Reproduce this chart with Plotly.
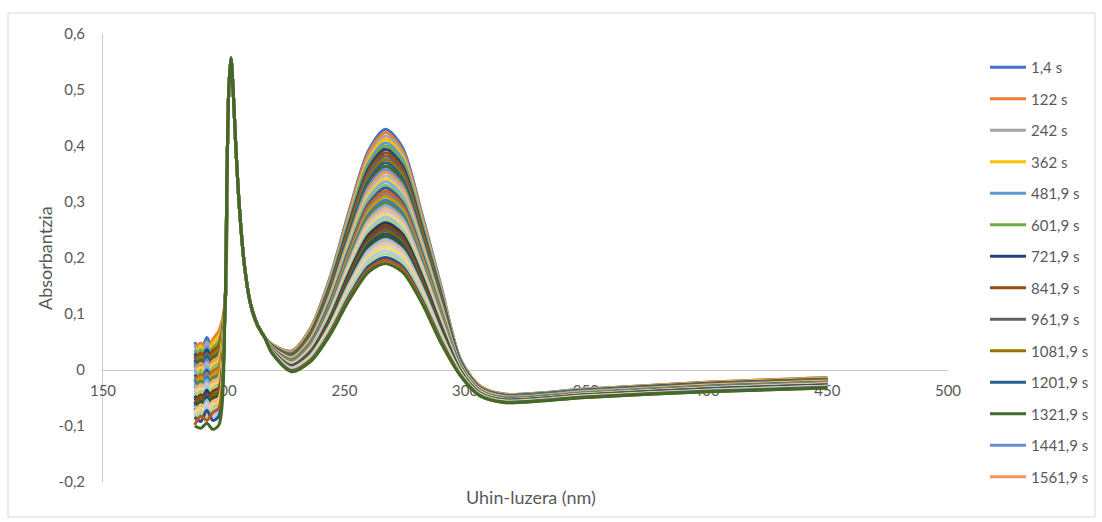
import plotly.graph_objects as go

# ---- series labels (time of each spectrum) ----
time_labels = ["1,4 s", "122 s", "242 s", "362 s", "481,9 s", "601,9 s", "721,9 s", "841,9 s",
               "961,9 s", "1081,9 s", "1201,9 s", "1321,9 s", "1441,9 s", "1561,9 s", "1681,9 s",
               "1801,9 s", "1921,9 s", "2041,9 s", "2161,9 s", "2281,9 s", "2401,9 s", "2521,9 s",
               "2641,9 s", "2761,9 s", "2881,9 s", "3001,9 s", "3121,9 s", "3241,9 s", "3361,9 s",
               "3481,9 s", "3601,9 s", "3721,9 s", "3841,9 s", "3961,9 s", "4081,9 s", "4201,9 s",
               "4321,9 s", "4441,9 s", "4561,9 s", "4681,9 s", "4801,9 s", "4921,9 s", "5041,9 s",
               "5161,9 s", "5281,9 s"]

# ---- absorbance readings (milli-absorbance), one list per wavelength, one value per series ----
# noisy far-UV region
noise_wl = [188, 190.5, 193, 195.5, 198]
mA188 = [50, 38, 45, 30, 36, 22, 30, 18, 25, 10, 18, 4, 12, -2, 5, -8, 0, -15, -8, -20, -14, -28, -18,
         -33, -26, -40, -32, -46, -40, -52, -46, -60, -50, -66, -58, -72, -64, -78, -70, -84, -78, -90,
         -84, -98, -100]
mA190 = [30, 48, 28, 42, 22, 36, 15, 30, 8, 24, 2, 18, -4, 12, -10, 5, -16, -2, -22, -8, -28, -14, -34,
         -20, -40, -26, -46, -32, -52, -38, -58, -44, -64, -50, -70, -56, -76, -62, -82, -68, -88, -74,
         -92, -82, -104]
mA193 = [58, 35, 50, 28, 42, 25, 36, 18, 30, 12, 24, 6, 18, 0, 12, -6, 6, -12, 0, -18, -6, -24, -12,
         -30, -18, -36, -24, -42, -30, -48, -36, -54, -42, -60, -48, -66, -54, -72, -60, -78, -66, -84,
         -72, -90, -95]
mA195 = [38, 55, 30, 48, 26, 40, 20, 34, 12, 28, 6, 22, 0, 16, -6, 10, -12, 4, -18, -2, -24, -8, -30,
         -14, -36, -20, -42, -26, -48, -32, -54, -38, -60, -44, -66, -50, -72, -56, -78, -62, -84, -68,
         -90, -76, -106]
mA198 = [52, 70, 45, 60, 38, 52, 30, 44, 24, 38, 18, 30, 12, 24, 5, 18, -2, 12, -8, 5, -15, -2, -22,
         -8, -28, -14, -34, -20, -40, -26, -46, -32, -52, -38, -58, -44, -64, -50, -70, -56, -76, -62,
         -82, -68, -98]

# sharp band near 203 nm: all spectra overlap
shared_wl = [200.6, 201.3, 202.1, 203.0, 203.9, 205.0, 206.5, 208.5, 211.0, 214.0, 217.0]
shared_mA = [120, 330, 500, 557, 500, 400, 290, 190, 120, 80, 58]

# broad band around 267 nm and the tail
band_wl = [220, 228, 236, 244, 252, 260, 267, 274, 282, 290, 298, 306, 316, 350, 400, 450]
mA220 = [46, 46, 45, 45, 44, 44, 44, 43, 43, 42, 42, 42, 41, 41, 40, 40, 40, 39, 39, 39, 38, 38, 38,
         37, 37, 37, 36, 36, 36, 35, 35, 35, 34, 34, 34, 33, 33, 33, 32, 32, 32, 31, 31, 30, 30]
mA228 = [34, 33, 32, 31, 30, 29, 28, 28, 27, 26, 25, 24, 23, 22, 21, 20, 19, 19, 18, 17, 16, 15, 14,
         14, 13, 12, 11, 11, 10, 9, 8, 7, 7, 6, 5, 4, 4, 3, 2, 1, 1, 0, -1, -2, -3]
mA236 = [75, 74, 72, 71, 69, 68, 66, 65, 63, 62, 60, 59, 57, 56, 54, 53, 52, 50, 49, 47, 46, 45, 43,
         42, 41, 40, 38, 37, 36, 35, 33, 32, 31, 30, 28, 27, 26, 25, 24, 22, 21, 19, 18, 17, 15]
mA244 = [165, 162, 160, 157, 155, 152, 150, 147, 144, 142, 139, 137, 134, 132, 129, 127, 125, 122,
         120, 117, 115, 113, 111, 108, 106, 104, 102, 100, 98, 96, 93, 91, 89, 87, 85, 83, 80, 78, 77,
         75, 72, 69, 67, 65, 62]
mA252 = [285, 281, 277, 273, 269, 265, 261, 257, 253, 249, 245, 241, 237, 234, 230, 226, 222, 218,
         215, 211, 208, 204, 200, 197, 194, 190, 187, 184, 180, 177, 174, 170, 167, 164, 160, 157, 154,
         150, 148, 144, 140, 136, 132, 129, 125]
mA260 = [392, 387, 381, 376, 370, 365, 360, 354, 349, 343, 338, 332, 327, 322, 317, 312, 307, 302,
         297, 292, 287, 283, 277, 273, 268, 264, 259, 255, 250, 246, 241, 236, 232, 228, 223, 218, 214,
         209, 206, 201, 196, 190, 185, 180, 175]
mA267 = [430, 424, 418, 412, 406, 400, 394, 388, 382, 376, 370, 364, 358, 353, 347, 341, 336, 330,
         325, 319, 314, 309, 303, 298, 293, 288, 283, 278, 273, 268, 263, 258, 253, 248, 243, 238, 233,
         228, 224, 219, 213, 207, 201, 196, 190]
mA274 = [398, 392, 387, 381, 376, 370, 365, 359, 353, 348, 342, 337, 331, 326, 321, 315, 311, 305,
         300, 295, 290, 286, 280, 275, 271, 266, 261, 257, 252, 248, 243, 238, 234, 229, 224, 220, 215,
         210, 207, 202, 196, 191, 185, 181, 175]
mA282 = [280, 276, 272, 268, 264, 260, 256, 252, 248, 244, 240, 236, 232, 229, 225, 221, 217, 213,
         210, 206, 203, 199, 195, 192, 189, 185, 182, 179, 175, 172, 169, 165, 162, 159, 155, 152, 149,
         145, 143, 139, 135, 131, 127, 124, 120]
mA290 = [150, 147, 145, 142, 140, 137, 135, 132, 130, 127, 125, 122, 119, 117, 115, 112, 110, 107,
         105, 103, 101, 99, 96, 94, 92, 90, 88, 85, 83, 81, 79, 77, 75, 73, 71, 68, 66, 64, 62, 60, 58,
         55, 53, 51, 48]
mA298 = [20, 19, 19, 18, 17, 16, 16, 15, 14, 13, 13, 12, 11, 10, 10, 9, 8, 8, 7, 6, 6, 5, 4, 4, 3, 2,
         2, 1, 0, 0, -1, -2, -2, -3, -3, -4, -5, -5, -6, -6, -7, -8, -9, -9, -10]
mA306 = [-28, -28, -29, -29, -30, -30, -31, -31, -32, -32, -33, -33, -33, -34, -34, -35, -35, -36,
         -36, -36, -37, -37, -38, -38, -38, -39, -39, -39, -40, -40, -41, -41, -41, -42, -42, -42, -43,
         -43, -43, -44, -44, -45, -45, -46, -46]
mA316 = [-43, -43, -44, -44, -44, -45, -45, -46, -46, -46, -47, -47, -47, -48, -48, -49, -49, -49,
         -50, -50, -50, -51, -51, -51, -52, -52, -52, -53, -53, -53, -53, -54, -54, -54, -55, -55, -55,
         -56, -56, -56, -57, -57, -57, -58, -58]
mA350 = [-34, -34, -35, -35, -35, -36, -36, -37, -37, -37, -38, -38, -38, -39, -39, -40, -40, -40,
         -41, -41, -41, -42, -42, -42, -43, -43, -43, -44, -44, -44, -44, -45, -45, -45, -46, -46, -46,
         -47, -47, -47, -48, -48, -48, -49, -49]
mA400 = [-22, -22, -23, -23, -24, -24, -24, -25, -25, -26, -26, -27, -27, -27, -28, -28, -29, -29,
         -29, -30, -30, -31, -31, -31, -32, -32, -32, -33, -33, -33, -34, -34, -34, -35, -35, -36, -36,
         -36, -37, -37, -37, -38, -38, -39, -39]
mA450 = [-14, -14, -15, -15, -16, -16, -17, -17, -18, -18, -19, -19, -19, -20, -20, -21, -21, -22,
         -22, -22, -23, -23, -24, -24, -24, -25, -25, -25, -26, -26, -27, -27, -27, -28, -28, -28, -29,
         -29, -29, -30, -30, -31, -31, -32, -32]

noise_cols = [mA188, mA190, mA193, mA195, mA198]
band_cols = [mA220, mA228, mA236, mA244, mA252, mA260, mA267, mA274, mA282, mA290, mA298, mA306,
             mA316, mA350, mA400, mA450]

# ---- ticks ----
x_ticks = [150, 200, 250, 300, 350, 400, 450, 500]
y_ticks = [-0.2, -0.1, 0, 0.1, 0.2, 0.3, 0.4, 0.5, 0.6]
y_ticktext = ["-0,2", "-0,1", "0", "0,1", "0,2", "0,3", "0,4", "0,5", "0,6"]

# ---- styling ----
colors = ["#4472C4", "#ED7D31", "#A5A5A5", "#FFC000", "#5B9BD5", "#70AD47",
          "#264478", "#9E480E", "#636363", "#997300", "#255E91", "#43682B",
          "#698ED0", "#F1975A", "#B7B7B7", "#FFCD33", "#7CAFDD", "#8CC168",
          "#335AA1", "#D26012", "#848484", "#CC9A00", "#327DC2", "#5A8A39",
          "#8FAADC", "#F4B183", "#C9C9C9", "#FFD966", "#9DC3E6", "#A9D18E",
          "#203864", "#843C0C", "#525252", "#7F6000", "#1F4E79", "#385723",
          "#A2B9E2", "#F5BA92", "#D0D0D0", "#FFDA66", "#ADCDEA", "#B5D79B",
          "#2E4F8A", "#B55A1C", "#3F6B27"]

TEXT = "#595959"
FONT = "Lato, 'Open Sans', sans-serif"

wl = noise_wl + shared_wl + band_wl
fig = go.Figure()
for i, name in enumerate(time_labels):
    y = [c[i] / 1000 for c in noise_cols] + [v / 1000 for v in shared_mA] + [c[i] / 1000 for c in band_cols]
    fig.add_trace(go.Scatter(
        x=wl, y=y, mode="lines", name=name,
        line=dict(color=colors[i], width=3, shape="spline", smoothing=0.8),
        showlegend=i < 14, legendgroup="g%d" % i, hoverinfo="skip"))

W, H = 1102, 522
L, R, T, B = 103, 154, 34, 40
pw, ph = W - L - R, H - T - B


def px(x):
    return (x - L) / pw


def py(y):
    return (H - B - y) / ph


fig.update_layout(
    width=W, height=H,
    margin=dict(l=L, r=R, t=T, b=B, pad=0, autoexpand=False),
    paper_bgcolor="white", plot_bgcolor="white",
    font=dict(family=FONT, color=TEXT, size=15),
    xaxis=dict(range=[150, 500], tickvals=x_ticks, showgrid=False, zeroline=False,
               showline=True, linecolor="#C8C8C8", linewidth=1, ticks="",
               anchor="free", position=0.25, layer="below traces",
               tickfont=dict(size=15, color=TEXT), ticklabelstandoff=7),
    yaxis=dict(range=[-0.2, 0.6], tickvals=y_ticks, ticktext=y_ticktext, showgrid=False,
               zeroline=False, showline=True, linecolor="#C8C8C8", linewidth=1, ticks="",
               layer="below traces", tickfont=dict(size=15, color=TEXT), ticklabelstandoff=14),
    legend=dict(x=px(985), y=py(51), xanchor="left", yanchor="top", itemwidth=36,
                font=dict(size=15, color=TEXT), tracegroupgap=9, traceorder="grouped",
                bgcolor="rgba(0,0,0,0)"),
    shapes=[dict(type="rect", xref="paper", yref="paper", x0=px(8), x1=px(1095),
                 y0=py(517), y1=py(13), line=dict(color="#D9D9D9", width=1))],
    annotations=[
        dict(text="Absorbantzia", xref="paper", yref="paper", x=px(45), y=py(258),
             xanchor="center", yanchor="middle",
             textangle=-90, showarrow=False, font=dict(size=18, color=TEXT)),
        dict(text="Uhin-luzera (nm)", xref="paper", yref="paper", x=px(531), y=py(497),
             xanchor="center", yanchor="middle",
             showarrow=False, font=dict(size=18, color=TEXT)),
    ],
)

fig.write_html("out.html")
